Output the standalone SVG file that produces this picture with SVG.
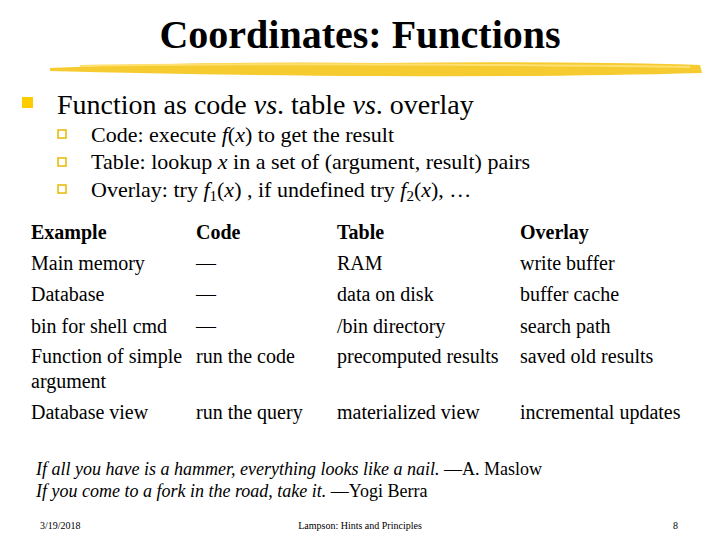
<svg xmlns="http://www.w3.org/2000/svg" width="720" height="540" viewBox="0 0 720 540">
<style>
text{font-family:"Liberation Serif","Times New Roman",serif}
.t{font-size:20px}
.h{font-size:20px;font-weight:bold}
.s{font-size:22px}
.q{font-size:18px;font-style:italic}
.f{font-size:10px}
.sq{fill:none;stroke:#E8B800;stroke-width:1.5}
</style>
<rect width="720" height="540" fill="#fff"/>
<g id="title">
<path d="M50 68 Q200 61 380 63 Q560 61 700 65 L702 73 Q560 77 380 76 Q200 75 50 71 Z" fill="#F5C518" opacity="0.9"/>
<path d="M80 66 Q300 62 690 67" stroke="#FFE070" stroke-width="2" fill="none"/>
<text x="360" y="48" text-anchor="middle" font-size="40" font-weight="bold">Coordinates: Functions</text>
</g>
<g id="bullets">
<rect x="22" y="97" width="11" height="11" fill="#FFCC00"/>
<text x="57" y="114" font-size="28">Function as code <tspan font-style="italic">vs</tspan>. table <tspan font-style="italic">vs</tspan>. overlay</text>
<rect class="sq" x="58" y="130" width="8" height="8"/>
<rect class="sq" x="58" y="158" width="8" height="8"/>
<rect class="sq" x="58" y="185" width="8" height="8"/>
<text class="s" x="91" y="142">Code: execute <tspan font-style="italic">f</tspan>(<tspan font-style="italic">x</tspan>) to get the result</text>
<text class="s" x="91" y="169">Table: lookup <tspan font-style="italic">x</tspan> in a set of (argument, result) pairs</text>
<text class="s" x="91" y="197">Overlay: try <tspan font-style="italic">f</tspan><tspan font-size="15" dy="4">1</tspan><tspan dy="-4">(</tspan><tspan font-style="italic">x</tspan>) , if undefined try <tspan font-style="italic">f</tspan><tspan font-size="15" dy="4">2</tspan><tspan dy="-4">(</tspan><tspan font-style="italic">x</tspan>), …</text>
</g>
<g id="table">
<text class="h" x="31" y="239">Example</text><text class="h" x="196" y="239">Code</text><text class="h" x="337" y="239">Table</text><text class="h" x="520" y="239">Overlay</text>
<text class="t" x="31" y="270">Main memory</text><text class="t" x="196" y="270">—</text><text class="t" x="337" y="270">RAM</text><text class="t" x="520" y="270">write buffer</text>
<text class="t" x="31" y="301">Database</text><text class="t" x="196" y="301">—</text><text class="t" x="337" y="301">data on disk</text><text class="t" x="520" y="301">buffer cache</text>
<text class="t" x="31" y="333">bin for shell cmd</text><text class="t" x="196" y="333">—</text><text class="t" x="337" y="333">/bin directory</text><text class="t" x="520" y="333">search path</text>
<text class="t" x="31" y="363">Function of simple</text><text class="t" x="31" y="388">argument</text><text class="t" x="196" y="363">run the code</text><text class="t" x="337" y="363">precomputed results</text><text class="t" x="520" y="363">saved old results</text>
<text class="t" x="31" y="419">Database view</text><text class="t" x="196" y="419">run the query</text><text class="t" x="337" y="419">materialized view</text><text class="t" x="520" y="419">incremental updates</text>
</g>
<g id="quotes">
<text class="q" x="36" y="475">If all you have is a hammer, everything looks like a nail. <tspan font-style="normal">—A. Maslow</tspan></text>
<text class="q" x="36" y="497">If you come to a fork in the road, take it. <tspan font-style="normal">—Yogi Berra</tspan></text>
</g>
<g id="footer">
<text class="f" x="40" y="529">3/19/2018</text>
<text class="f" x="360" y="529" text-anchor="middle">Lampson: Hints and Principles</text>
<text class="f" x="673" y="529">8</text>
</g>
</svg>
